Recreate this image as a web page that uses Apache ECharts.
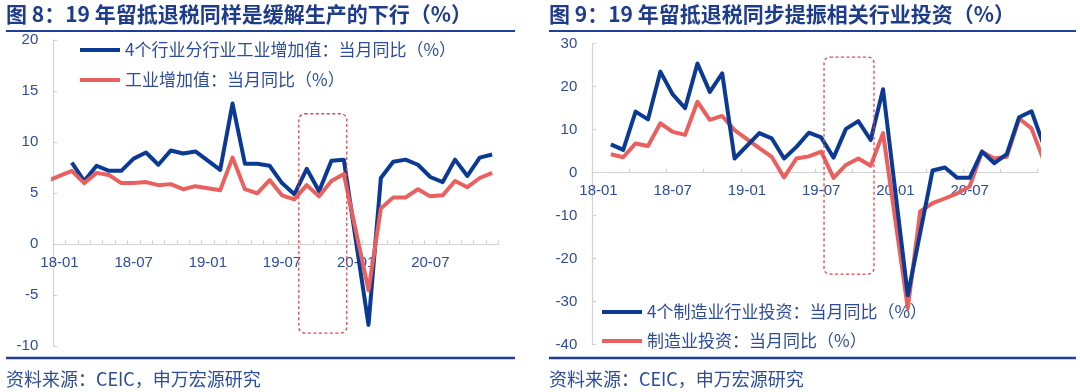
<!DOCTYPE html>
<html>
<head>
<meta charset="utf-8">
<script src="https://cdn.jsdelivr.net/npm/echarts@6/dist/echarts.min.js"></script>
<style>
html,body{margin:0;padding:0;background:#ffffff;}
#c{width:1080px;height:392px;}
</style>
</head>
<body>
<div id="c"></div>
<script>
// ---------------- DATA ----------------
const months = [
  '17-12',
  '18-01','18-02','18-03','18-04','18-05','18-06','18-07','18-08','18-09','18-10','18-11','18-12',
  '19-01','19-02','19-03','19-04','19-05','19-06','19-07','19-08','19-09','19-10','19-11','19-12',
  '20-01','20-02','20-03','20-04','20-05','20-06','20-07','20-08','20-09','20-10','20-11','20-12',
  '21-01'
];
const visibleStart = '18-01';
const visibleEnd = '20-12';
const xTickLabels = ['18-01','18-07','19-01','19-07','20-01','20-07'];
const rightTickMonths = ['01','04','07','10'];

const leftTitle = '图 8：19 年留抵退税同样是缓解生产的下行（%）';
const rightTitle = '图 9：19 年留抵退税同步提振相关行业投资（%）';
const sourceText = '资料来源：CEIC，申万宏源研究';

const leftBlueName = '4个行业分行业工业增加值：当月同比（%）';
const leftRedName = '工业增加值：当月同比（%）';
const rightBlueName = '4个制造业行业投资：当月同比（%）';
const rightRedName = '制造业投资：当月同比（%）';

// January values are not published (Jan-Feb combined) -> null, lines connect across
const leftBlue = [
  null,
  null, 8.0, 6.2, 7.7, 7.2, 7.2, 8.4, 9.0, 7.8, 9.2, 8.9, 9.1,
  null, 7.3, 13.8, 7.9, 7.9, 7.7, 6.0, 4.9, 7.4, 5.2, 8.2, 8.3,
  null, -7.9, 6.5, 8.1, 8.3, 7.8, 6.6, 6.1, 8.3, 6.7, 8.5, 8.8,
  null
];
const leftRed = [
  6.2,
  null, 7.2, 6.0, 7.0, 6.8, 6.0, 6.0, 6.1, 5.8, 5.9, 5.4, 5.7,
  null, 5.3, 8.5, 5.4, 5.0, 6.3, 4.8, 4.4, 5.8, 4.7, 6.2, 6.9,
  null, -4.5, 3.5, 4.6, 4.6, 5.4, 4.7, 4.8, 6.2, 5.6, 6.5, 7.0,
  null
];
const rightBlue = [
  null,
  null, 6.6, 5.3, 14.2, 12.4, 23.5, 18.2, 15.0, 25.4, 18.8, 23.1, 3.3,
  null, 9.2, 8.0, 3.3, 6.0, 9.3, 8.2, 3.5, 10.2, 12.0, 7.6, 19.4,
  null, -28.5, -14.0, 0.5, 1.2, -1.2, -1.2, 4.9, 2.2, 4.3, 12.9, 14.3,
  6.3
];
const rightRed = [
  null,
  null, 4.3, 3.6, 6.8, 6.2, 11.5, 9.5, 8.8, 16.5, 12.3, 13.2, 9.9,
  null, 5.7, 3.7, -1.1, 3.3, 3.8, 4.9, -1.2, 1.8, 3.3, 1.6, 9.2,
  null, -31.5, -9.0, -7.1, -6.0, -4.8, -3.2, 4.9, 3.3, 3.7, 12.6, 10.3,
  2.7
];

// value-axis ranges
const leftRange = { min: -10, max: 20, interval: 5 };
const rightRange = { min: -40, max: 30, interval: 10 };

// dashed highlight boxes: fractional category index range + value range
const highlightBoxes = [
  { axis: 0, fromIdx: 20.36, toIdx: 24.24, top: 12.8, bottom: -8.7 },
  { axis: 1, fromIdx: 19.23, toIdx: 23.27, top: 26.9, bottom: -23.6 }
];

// ---------------- STYLE / LAYOUT ----------------
const BLUE = '#0B3A94';
const RED = '#E9605F';
const NAVY = '#1E3C8C';
const LABEL = '#2D4C9C';
const AXIS = '#D3D3D3';
const FONT = "'Liberation Sans','Noto Sans CJK SC',sans-serif";
const CJK = "'Noto Sans CJK SC','Liberation Sans',sans-serif";

const grids = [
  { left: 53.3, top: 40.3, width: 445, height: 306 },
  { left: 592.3, top: 43.7, width: 445.4, height: 301 }
];

const chart = echarts.init(document.getElementById('c'), null, { renderer: 'canvas' });

const iStart = months.indexOf(visibleStart);
const iEnd = months.indexOf(visibleEnd);

// x axis sits on the zero line: offset from grid bottom derived from the y range
function zeroOffset(grid, range) {
  return -grid.height * (0 - range.min) / (range.max - range.min);
}

function xAxisCfg(gridIndex, range, tickInterval) {
  return {
    type: 'category', gridIndex: gridIndex, data: months, position: 'bottom',
    min: iStart, max: iEnd, boundaryGap: true,
    offset: zeroOffset(grids[gridIndex], range),
    axisLine: { show: true, onZero: false, lineStyle: { color: AXIS, width: 1.2 } },
    axisTick: { show: true, inside: true, length: 4, interval: tickInterval, lineStyle: { color: AXIS, width: 1.2 } },
    axisLabel: {
      interval: function (i, v) { return xTickLabels.indexOf(v) >= 0; },
      color: LABEL, fontSize: 15, fontFamily: FONT, margin: 11
    },
    splitLine: { show: false }
  };
}
function yAxisCfg(gridIndex, range) {
  return {
    type: 'value', gridIndex: gridIndex, min: range.min, max: range.max, interval: range.interval,
    axisLine: { show: true, onZero: false, lineStyle: { color: AXIS, width: 1.2 } },
    axisTick: { show: true, inside: true, length: 4, lineStyle: { color: AXIS, width: 1.2 } },
    axisLabel: { color: LABEL, fontSize: 15, fontFamily: FONT, margin: 15 },
    splitLine: { show: false }
  };
}
function lineSeries(name, axis, data, color, z) {
  return {
    name: name, type: 'line', xAxisIndex: axis, yAxisIndex: axis, data: data,
    connectNulls: true, symbol: 'none', clip: true, z: z,
    color: color,
    lineStyle: { color: color, width: 4, join: 'round' },
    itemStyle: { color: color },
    emphasis: { disabled: true }
  };
}

const option = {
  animation: false,
  backgroundColor: '#ffffff',
  grid: grids.map(function (g) { return Object.assign({ outerBoundsMode: 'none', containLabel: false }, g); }),
  xAxis: [
    xAxisCfg(0, leftRange, 0),
    xAxisCfg(1, rightRange, function (i, v) { return rightTickMonths.indexOf(String(v).slice(3)) >= 0; })
  ],
  yAxis: [
    yAxisCfg(0, leftRange),
    yAxisCfg(1, rightRange)
  ],
  legend: [
    {
      data: [leftBlueName, leftRedName], orient: 'vertical', left: 80, top: 41, padding: 0,
      icon: 'rect', itemWidth: 40, itemHeight: 4, itemGap: 12, selectedMode: false,
      textStyle: { fontSize: 17, color: LABEL, fontFamily: CJK, lineHeight: 18 }
    },
    {
      data: [rightBlueName, rightRedName], orient: 'vertical', left: 602, top: 303, padding: 0,
      icon: 'rect', itemWidth: 40, itemHeight: 4, itemGap: 11, selectedMode: false,
      textStyle: { fontSize: 17, color: LABEL, fontFamily: CJK, lineHeight: 18 }
    }
  ],
  series: [
    lineSeries(leftBlueName, 0, leftBlue, BLUE, 2),
    lineSeries(leftRedName, 0, leftRed, RED, 3),
    lineSeries(rightBlueName, 1, rightBlue, BLUE, 3),
    lineSeries(rightRedName, 1, rightRed, RED, 2)
  ],
  graphic: [
    { id: 't1', type: 'text', x: 6, y: 4, style: { text: leftTitle, font: 'bold 21px ' + CJK, fill: NAVY } },
    { id: 't2', type: 'text', x: 549, y: 4, style: { text: rightTitle, font: 'bold 21px ' + CJK, fill: NAVY } },
    { id: 'u1', type: 'line', shape: { x1: 6, y1: 31, x2: 515, y2: 31 }, style: { stroke: '#1F3F9A', lineWidth: 2 } },
    { id: 'u2', type: 'line', shape: { x1: 549, y1: 31, x2: 1076, y2: 31 }, style: { stroke: '#1F3F9A', lineWidth: 2 } },
    { id: 'f1', type: 'line', shape: { x1: 6, y1: 358, x2: 515, y2: 358 }, style: { stroke: '#1F3F9A', lineWidth: 2.5 } },
    { id: 'f2', type: 'line', shape: { x1: 549, y1: 358, x2: 1076, y2: 358 }, style: { stroke: '#1F3F9A', lineWidth: 2.5 } },
    { id: 's1', type: 'text', x: 6, y: 370, style: { text: sourceText, font: '18px ' + CJK, fill: LABEL } },
    { id: 's2', type: 'text', x: 549, y: 370, style: { text: sourceText, font: '18px ' + CJK, fill: LABEL } }
  ]
};

chart.setOption(option);

// place dashed boxes through the axes' own scales
function toPixel(axis, idx, val) {
  const i0 = Math.floor(idx);
  const f = idx - i0;
  const p0 = chart.convertToPixel({ xAxisIndex: axis, yAxisIndex: axis }, [months[i0], val]);
  const p1 = chart.convertToPixel({ xAxisIndex: axis, yAxisIndex: axis }, [months[i0 + 1], val]);
  return [p0[0] + (p1[0] - p0[0]) * f, p0[1]];
}
const boxGraphics = highlightBoxes.map(function (b, n) {
  const a = toPixel(b.axis, b.fromIdx, b.top);
  const c = toPixel(b.axis, b.toIdx, b.bottom);
  return {
    id: 'box' + n, type: 'rect', z: 100,
    shape: { x: a[0], y: a[1], width: c[0] - a[0], height: c[1] - a[1], r: 6 },
    style: { fill: 'none', stroke: '#E8434A', lineWidth: 1.3, lineDash: [3, 2.5] }
  };
});
chart.setOption({ graphic: boxGraphics });
</script>
</body>
</html>
